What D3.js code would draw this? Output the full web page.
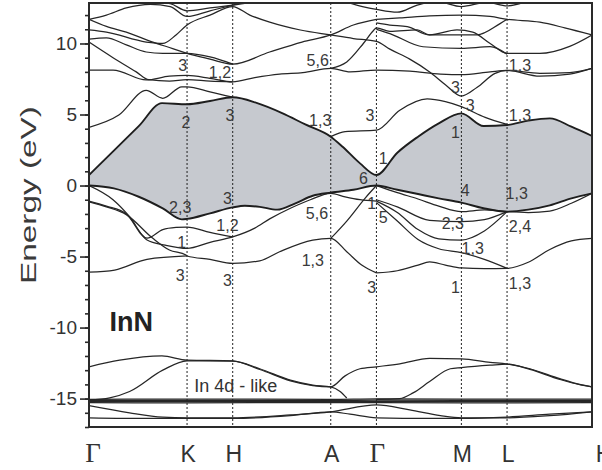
<!DOCTYPE html>
<html><head><meta charset="utf-8">
<script src="https://cdn.jsdelivr.net/npm/d3@7"></script>
<style>body{margin:0;background:#fff}svg{display:block}</style>
</head><body><svg id="c" width="602" height="470"></svg>
<script>
// symmetry points along the k-path (1/Å)
const symLabels = ["Γ","K","H","A","Γ","M","L","H"];
const symK = [0,1.183,1.734,2.917,3.468,4.493,5.044,6.069];
const yMajor = [-15,-10,-5,0,5,10];
const yMinor = d3.range(-17,13,1);

// lowest conduction band (upper edge of shaded region)
const cb1 = [[0,0.74],[0.30,2.46],[0.60,4.18],[0.88,5.8],[1.183,5.72],[1.46,5.95],[1.734,6.21],[2.03,5.8],[2.33,5.1],[2.61,4.3],[2.917,3.44],[3.06,2.73],[3.27,1.56],[3.468,0.74],[3.72,2.31],[3.97,3.44],[4.22,4.38],[4.493,5.08],[4.76,4.19],[5.044,4.26],[5.30,4.57],[5.56,4.73],[5.82,4.14],[6.069,3.49]];
// top valence band (lower edge of shaded region)
const vb1 = [[0,0],[0.30,-0.2],[0.60,-0.79],[0.89,-1.61],[1.12,-2.38],[1.183,-2.35],[1.46,-1.96],[1.734,-1.54],[1.88,-1.42],[2.06,-1.5],[2.27,-1.7],[2.49,-1.25],[2.70,-0.72],[2.917,-0.5],[3.19,-0.3],[3.468,0],[3.72,-0.3],[3.97,-0.6],[4.22,-0.9],[4.493,-1.2],[4.76,-1.6],[5.044,-1.84],[5.30,-1.7],[5.56,-1.4],[5.82,-0.9],[6.069,-0.55]];

// other valence bands
const valence = [
  [[5.044,-1.84],[5.30,-1.9],[5.56,-1.8],[5.82,-1.25],[6.069,-0.55]],
  [[0,0],[0.29,-1.0],[0.49,-2.2],[0.70,-3.84],[0.92,-4.2],[1.183,-4.43],[1.46,-4.0],[1.734,-3.62],[2.00,-3.0],[2.18,-2.35],[2.43,-1.6],[2.67,-1.0],[2.917,-0.55],[3.09,-0.8],[3.27,-1.0],[3.468,-1.1]],
  [[0,-1.1],[0.21,-1.45],[0.45,-2.0],[0.70,-3.7],[0.89,-3.1],[1.05,-2.95],[1.183,-2.92],[1.46,-3.3],[1.734,-3.62]],
  [[0,-1.15],[0.21,-1.5],[0.45,-2.05],[0.77,-3.72],[0.97,-4.54],[1.17,-4.89],[1.183,-4.96],[1.46,-5.2],[1.734,-5.48],[2.06,-5.3],[2.30,-4.66],[2.70,-3.84],[2.917,-3.72],[3.11,-4.66],[3.29,-5.6],[3.468,-6.15]],
  [[0,-6.1],[0.31,-5.95],[0.70,-5.2],[1.183,-4.96]],
  [[2.917,-3.72],[3.11,-2.5],[3.33,-0.9],[3.468,0]],
  [[3.468,0],[3.72,-0.5],[3.97,-0.95],[4.22,-1.45],[4.493,-1.84],[4.77,-1.72],[5.044,-1.84]],
  [[3.468,-1.0],[3.72,-1.5],[4.11,-2.45],[4.493,-2.55],[4.77,-2.4],[5.044,-1.84]],
  [[3.468,-1.1],[3.72,-1.9],[3.97,-3.1],[4.22,-3.75],[4.493,-3.84],[4.77,-3.2],[5.044,-1.84]],
  [[3.468,-1.2],[3.72,-2.5],[3.97,-3.8],[4.22,-4.45],[4.493,-4.72],[4.77,-5.2],[5.044,-5.83]],
  [[3.468,-6.15],[3.72,-6.0],[3.97,-5.6],[4.11,-5.38],[4.30,-5.6],[4.493,-5.8],[4.77,-5.85],[5.044,-5.83],[5.30,-5.4],[5.56,-4.5],[5.82,-3.9],[6.069,-3.72]]
];

// higher conduction bands
const conduction = [
  [[0,4.1],[0.36,4.96],[0.69,6.7],[0.89,6.14],[1.12,6.95],[1.183,6.95],[1.46,6.6],[1.734,6.22]],
  [[0,8.13],[0.29,8.13],[0.69,7.43],[0.97,7.7],[1.183,7.75],[1.46,7.55],[1.734,7.3],[2.00,7.6],[2.30,7.85],[2.58,7.95],[2.917,8.25],[3.15,8.0],[3.468,8.13],[3.87,8.05],[4.24,7.85],[4.493,7.8],[4.84,8.0],[5.044,8.1],[5.44,7.7],[5.80,7.85],[6.069,8.25]],
  [[0,10.1],[0.29,9.0],[0.57,8.0],[0.72,7.45],[0.97,7.35],[1.183,7.45],[1.46,7.35],[1.734,7.3]],
  [[0,11.7],[0.21,11.2],[0.45,10.8],[0.77,10.1],[1.01,9.64],[1.183,9.3],[1.46,8.9],[1.734,8.55],[2.18,9.4],[2.57,10.1],[2.917,10.6],[3.19,11.3],[3.468,11.7]],
  [[0,10.3],[0.21,10.4],[0.45,9.9],[0.69,9.4],[0.89,9.3],[1.183,9.3],[1.46,9.05],[1.734,8.55]],
  [[0,10.95],[0.21,10.8],[0.69,10.1],[0.89,10.0],[1.05,10.6],[1.183,11.3],[1.46,12.0],[1.734,12.6],[1.94,12.0],[2.18,11.5],[2.55,10.95],[2.917,10.6],[3.19,10.35],[3.468,10.15],[3.63,9.6],[3.87,8.9],[4.11,8.0],[4.30,7.1],[4.493,6.3],[4.68,6.9],[4.90,7.9],[5.044,8.1],[5.44,7.9],[5.80,7.95],[6.069,8.25]],
  [[2.917,8.25],[3.11,8.7],[3.31,10.0],[3.43,10.9],[3.468,11.1],[3.63,10.85],[3.96,10.95],[4.11,10.6],[4.44,10.95],[4.63,10.8],[4.84,10.0],[5.044,9.3],[5.44,9.3],[5.80,9.8],[6.069,10.6]],
  [[3.468,11.0],[3.63,10.7],[4.03,9.77],[4.493,9.66],[4.84,9.77],[5.044,9.25]],
  [[3.468,11.7],[3.75,11.8],[4.11,11.95],[4.493,12.0],[4.84,11.9],[5.044,11.7],[5.44,11.5],[5.74,11.1],[6.069,10.6]],
  [[3.468,11.45],[3.63,11.3],[3.84,11.18],[4.11,10.6],[4.44,10.6],[4.68,10.6],[4.96,11.4],[5.044,11.7]],
  [[2.917,3.44],[3.09,3.8],[3.468,3.9],[3.75,5.3],[4.08,6.1],[4.30,5.9],[4.493,5.55],[4.78,4.8],[5.044,4.3]],
  [[0,11.7],[0.21,12.0],[0.45,12.5],[0.74,12.75],[0.98,12.6],[1.183,11.9],[1.46,12.3],[1.734,12.7],[2.0,13.1]],
  [[0.5,13.1],[0.98,12.8],[1.183,12.3],[1.46,12.5],[1.734,12.7],[2.2,13.1]],
  [[3.0,13.1],[3.3,12.6],[3.468,12.4],[3.72,12.2],[3.96,12.7],[4.2,12.95],[4.493,12.6],[4.8,12.9],[5.044,12.65],[5.3,13.0]]
];

// In 4d-like semicore bands
const semicore = [
  [[0,-12.76],[0.37,-12.3],[0.88,-12.0],[1.183,-12.29],[1.734,-12.34],[2.06,-12.9],[2.43,-13.7],[2.70,-14.05],[2.917,-14.17],[3.03,-14.5],[3.11,-14.96]],
  [[0,-15.1],[0.25,-14.95],[0.49,-14.5],[0.89,-13.0],[1.183,-12.34],[1.734,-12.37],[2.06,-12.95],[2.43,-13.75],[2.70,-14.08],[2.917,-14.17],[3.09,-13.4],[3.27,-12.9],[3.468,-12.76],[3.75,-12.55],[4.11,-12.16],[4.493,-12.2],[4.84,-12.45],[5.044,-12.57],[5.32,-12.9],[5.68,-13.6],[5.92,-14.0],[6.069,-14.17]],
  [[3.468,-15.05],[3.75,-15.0],[3.91,-14.6],[4.11,-13.8],[4.36,-12.9],[4.493,-12.82],[4.84,-12.65],[5.044,-12.57],[5.32,-12.95],[5.68,-13.65],[5.92,-14.02],[6.069,-14.17]],
  [[0,-15.05],[1.183,-15.03],[2.917,-15.06],[3.468,-15.02],[4.493,-15.04],[6.069,-15.03]],
  [[0,-15.13],[1.183,-15.12],[2.917,-15.14],[3.468,-15.11],[4.493,-15.13],[6.069,-15.12]],
  [[0,-15.21],[1.183,-15.21],[2.917,-15.2],[3.468,-15.2],[4.493,-15.22],[6.069,-15.2]],
  [[0,-15.29],[1.183,-15.3],[2.917,-15.28],[3.468,-15.29],[4.493,-15.3],[6.069,-15.28]],
  [[0,-15.5],[0.49,-16.0],[0.89,-16.3],[1.183,-16.35],[1.734,-16.35],[2.43,-16.15],[2.917,-15.93],[3.468,-15.45],[3.87,-15.8],[4.24,-16.2],[4.493,-16.35],[5.044,-16.35],[5.56,-16.2],[6.069,-15.93]],
  [[0,-16.35],[0.74,-16.4],[1.734,-16.4],[2.43,-16.2],[2.917,-15.93],[3.15,-16.1],[3.468,-16.35],[4.11,-16.4],[4.493,-16.4],[5.044,-16.3],[5.56,-16.1],[6.069,-15.93]]
];

// irreducible-representation labels [text, k, E]
const repLabels = [
  ["3",1.13,8.49],["1,2",1.58,8.0],["5,6",2.76,8.84],["2",1.17,4.47],["3",1.70,4.96],
  ["1,3",2.79,4.61],["3",3.39,4.96],["6",3.31,0.53],["1",3.55,1.94],["3",4.42,6.94],
  ["3",4.60,5.67],["1",4.42,3.77],["1,3",5.20,8.49],["1,3",5.20,4.96],["4",4.54,-0.32],
  ["1,3",5.16,-0.53],["2,3",1.10,-1.5],["3",1.67,-0.88],["5,6",2.75,-1.94],["1,2",1.67,-2.78],
  ["1",1.12,-3.98],["1,3",2.70,-5.25],["3",1.10,-6.3],["3",1.67,-6.65],["3",3.41,-7.15],
  ["1",3.41,-1.23],["5",3.55,-2.2],["2,3",4.39,-2.64],["2,4",5.20,-2.9],["1,3",4.63,-4.4],
  ["1",4.42,-7.15],["1,3",5.20,-6.87]
];

const svg = d3.select("#c");
const L=89,R=592,T=3,B=427;
const x = d3.scaleLinear().domain([0,6.069]).range([L,R]);
const y = d3.scaleLinear().domain([-17,12.85]).range([B,T]);
const sans = "'Liberation Sans', Arial, sans-serif";

const defs = svg.append("defs");
defs.append("clipPath").attr("id","plot").append("rect")
  .attr("x",L).attr("y",T).attr("width",R-L).attr("height",B-T);
const curve = d3.curveMonotoneX;
defs.append("clipPath").attr("id","abovevb").append("path")
  .attr("d", d3.area().x(d=>x(d[0])).y0(d=>y(d[1])).y1(T).curve(curve)(vb1));

const g = svg.append("g").attr("clip-path","url(#plot)");
g.append("g").attr("clip-path","url(#abovevb)")
  .append("path")
  .attr("d", d3.area().x(d=>x(d[0])).y0(B).y1(d=>y(d[1])).curve(curve)(cb1))
  .attr("fill","#c6c9cf");

const line = d3.line().x(d=>x(d[0])).y(d=>y(d[1])).curve(curve);
g.selectAll(".band").data([...valence,...conduction,...semicore]).join("path")
  .attr("d",line).attr("fill","none").attr("stroke","#262626").attr("stroke-width",1.25);
g.selectAll(".edge").data([vb1,cb1]).join("path")
  .attr("d",line).attr("fill","none").attr("stroke","#1e1e1e").attr("stroke-width",1.9);

// vertical dotted lines at interior symmetry points
g.selectAll(".sym").data(symK.slice(1,-1)).join("line")
  .attr("x1",d=>x(d)).attr("x2",d=>x(d)).attr("y1",T).attr("y2",B)
  .attr("stroke","#222").attr("stroke-width",1).attr("stroke-dasharray","2,2");

// labels
svg.selectAll(".rep").data(repLabels).join("text")
  .attr("x",d=>x(d[1])).attr("y",d=>y(d[2])).attr("dy","0.36em")
  .attr("text-anchor","middle").attr("font-family",sans).attr("font-size",16)
  .attr("fill","#3a3a3a").text(d=>d[0]);

svg.append("text").attr("x",x(0.51)).attr("y",y(-9.54)).attr("dy","0.36em")
  .attr("text-anchor","middle").attr("font-family",sans).attr("font-weight","bold")
  .attr("font-size",27).attr("fill","#222").text("InN");
svg.append("text").attr("x",x(1.77)).attr("y",y(-14.05)).attr("dy","0.36em")
  .attr("text-anchor","middle").attr("font-family",sans)
  .attr("font-size",18).attr("fill","#333").text("In 4d - like");

// frame
svg.append("rect").attr("x",L).attr("y",T).attr("width",R-L).attr("height",B-T)
  .attr("fill","none").attr("stroke","#2a2a2a").attr("stroke-width",2);

// y axis
const ax = svg.append("g").attr("transform",`translate(${L},0)`);
ax.call(d3.axisLeft(y).tickValues(yMinor).tickSize(4).tickFormat(""));
ax.call(g2=>g2.select(".domain").remove());
const ax2 = svg.append("g").attr("transform",`translate(${L},0)`)
  .call(d3.axisLeft(y).tickValues(yMajor).tickSize(9).tickPadding(3).tickFormat(d=>String(d)));
ax2.select(".domain").remove();
svg.selectAll(".tick line").attr("stroke","#2a2a2a").attr("stroke-width",1.6);
ax2.selectAll("text").attr("font-family",sans).attr("font-size",19).attr("fill","#333");

svg.append("text").attr("transform",`translate(28,195) rotate(-90)`)
  .attr("text-anchor","middle").attr("dy","0.36em").attr("font-family",sans)
  .attr("font-size",22).attr("textLength",178).attr("lengthAdjust","spacingAndGlyphs")
  .attr("fill","#3a3a3a").text("Energy (eV)");

// x labels
svg.selectAll(".xl").data(symLabels.map((s,i)=>[s,symK[i],i])).join("text")
  .attr("x",d=> d[2]===0 ? x(d[1])+4 : (d[2]===symK.length-1 ? x(d[1])+12 : x(d[1])+1))
  .attr("y",462)
  .attr("text-anchor","middle")
  .attr("font-family",d=>d[0]==="Γ" ? "'Liberation Serif', 'Times New Roman', serif" : sans)
  .attr("font-size",d=>d[0]==="Γ" ? 27 : 23)
  .attr("fill","#333").text(d=>d[0]);
</script></body></html>
